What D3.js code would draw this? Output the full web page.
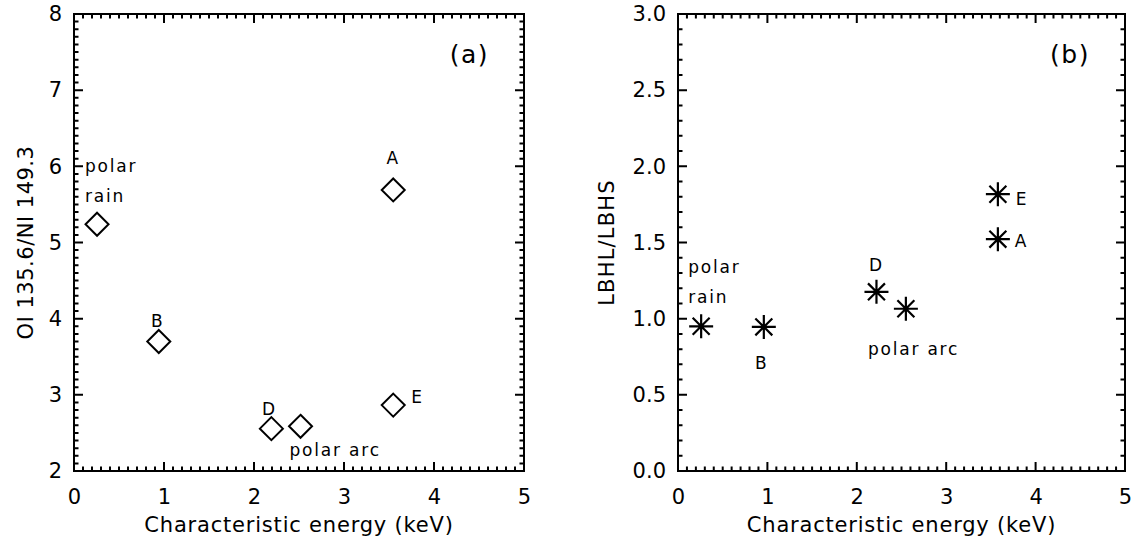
<!DOCTYPE html>
<html>
<head>
<meta charset="utf-8">
<script src="https://cdn.jsdelivr.net/npm/d3@7"></script>
<style>
  html, body { margin: 0; padding: 0; background: #fff; }
  svg text { font-family: "DejaVu Sans", sans-serif; fill: #000; }
</style>
</head>
<body>
<div id="chart"></div>
<script>
// panel (a): OI 135.6 / NI 149.3 vs characteristic energy
const namesA = ['polar rain', 'A', 'B', 'D', 'polar arc', 'E'];
const energyA = [0.256, 3.547, 0.942, 2.193, 2.517, 3.547];
const ratioA = [5.24, 5.69, 3.70, 2.556, 2.587, 2.865];

// panel (b): LBHL / LBHS vs characteristic energy
const namesB = ['polar rain', 'B', 'D', 'polar arc', 'E', 'A'];
const energyB = [0.259, 0.960, 2.220, 2.549, 3.578, 3.578];
const ratioB = [0.95, 0.946, 1.176, 1.065, 1.817, 1.522];

const xTicks = [0, 1, 2, 3, 4, 5];
const yTicksA = [2, 3, 4, 5, 6, 7, 8];
const yTicksB = [0.0, 0.5, 1.0, 1.5, 2.0, 2.5, 3.0];

const width = 1138, height = 541;
const majorLen = 9, minorLen = 4.5;

const svg = d3.select('#chart')
  .append('svg')
  .attr('width', width)
  .attr('height', height);

// label offsets relative to marker (px): [dx, dy, anchor]
const labelPosA = {
  'polar rain': [-12, -52, 'start'],
  'A': [0, -26, 'middle'],
  'B': [-1, -15, 'middle'],
  'D': [-2, -14, 'middle'],
  'polar arc': [-11, 30, 'start'],
  'E': [18, -2, 'start']
};
const labelPosB = {
  'polar rain': [-13, -53, 'start'],
  'B': [-2, 42, 'middle'],
  'D': [0, -21, 'middle'],
  'polar arc': [-38, 46, 'start'],
  'E': [18, 11, 'start'],
  'A': [17, 8, 'start']
};

function drawPanel(opts) {
  const x = d3.scaleLinear().domain([0, 5]).range(opts.xRange);
  const y = d3.scaleLinear().domain(opts.yDomain).range([471, 14]);
  const g = svg.append('g');
  const [x0, x1] = x.range();
  const [y0, y1] = y.range();

  const minorX = d3.range(0, 51).map(d => d / 10);
  const minorY = d3.range(Math.round(opts.yDomain[0] * 10), Math.round(opts.yDomain[1] * 10) + 1)
    .map(d => d / 10);
  const isMajor = (v, list) => list.some(t => Math.abs(t - v) < 1e-6);

  // frame
  g.append('rect')
    .attr('x', x0).attr('y', y1)
    .attr('width', x1 - x0)
    .attr('height', y0 - y1)
    .attr('fill', 'none').attr('stroke', '#000').attr('stroke-width', 2);

  // tick marks on all four sides, pointing inward
  const xLen = d => isMajor(d, xTicks) ? majorLen : minorLen;
  const yLen = d => isMajor(d, opts.yTicks) ? majorLen : minorLen;

  let tickPath = '';
  minorX.forEach(d => {
    tickPath += `M${x(d)},${y0}V${y0 - xLen(d)}M${x(d)},${y1}V${y1 + xLen(d)}`;
  });
  minorY.forEach(d => {
    tickPath += `M${x0},${y(d)}H${x0 + yLen(d)}M${x1},${y(d)}H${x1 - yLen(d)}`;
  });
  g.append('path')
    .attr('d', tickPath)
    .attr('fill', 'none')
    .attr('stroke', '#000')
    .attr('stroke-width', 2);

  // tick labels via axes
  const xAxis = g.append('g')
    .attr('transform', `translate(0,${y0})`)
    .call(d3.axisBottom(x).tickValues(xTicks).tickSize(0).tickPadding(18).tickFormat(d3.format('d')));
  const yAxis = g.append('g')
    .attr('transform', `translate(${x0},0)`)
    .call(d3.axisLeft(y).tickValues(opts.yTicks).tickSize(0).tickPadding(12).tickFormat(opts.yFmt));
  [xAxis, yAxis].forEach(a => {
    a.select('.domain').remove();
    a.selectAll('.tick line').remove();
    a.selectAll('text')
      .style('font-size', '21px')
      .style('font-family', '"DejaVu Sans", sans-serif')
      .attr('fill', '#000');
  });

  // axis titles
  g.append('text')
    .attr('x', (x0 + x1) / 2)
    .attr('y', 532)
    .attr('text-anchor', 'middle')
    .style('font-size', '21px').style('letter-spacing', '0.8px')
    .text('Characteristic energy (keV)');

  g.append('text')
    .attr('transform', `translate(${opts.yTitleX},${(y0 + y1) / 2}) rotate(-90)`)
    .attr('text-anchor', 'middle')
    .style('font-size', '21px').style('letter-spacing', opts.yTitleSpacing)
    .text(opts.yTitle);

  // panel tag
  g.append('text')
    .attr('x', x1 - 35).attr('y', 63)
    .attr('text-anchor', 'end')
    .style('font-size', '25px').style('letter-spacing', '1.5px')
    .text(opts.tag);

  const pts = opts.names.map((n, i) => ({ name: n, e: opts.energy[i], r: opts.ratio[i] }));

  // markers
  const m = g.selectAll('.marker')
    .data(pts)
    .enter()
    .append('g')
    .attr('transform', d => `translate(${x(d.e)},${y(d.r)})`);

  if (opts.symbol === 'diamond') {
    m.append('path')
      .attr('d', 'M0,-11.5L11.5,0L0,11.5L-11.5,0Z')
      .attr('fill', 'none').attr('stroke', '#000').attr('stroke-width', 2);
  } else {
    const r = 12, k = r * Math.SQRT1_2;
    m.append('path')
      .attr('d', `M0,${-r}V${r}M${-r},0H${r}M${-k},${-k}L${k},${k}M${-k},${k}L${k},${-k}`)
      .attr('fill', 'none').attr('stroke', '#000').attr('stroke-width', 2.2);
  }

  // annotations
  pts.forEach(d => {
    const p = opts.labelPos[d.name];
    const words = d.name === 'polar rain' ? ['polar', 'rain'] : [d.name];
    words.forEach((w, j) => {
      g.append('text')
        .attr('x', x(d.e) + p[0])
        .attr('y', y(d.r) + p[1] + j * 30)
        .attr('text-anchor', p[2])
        .style('font-size', '17px').style('letter-spacing', '1.8px')
        .text(w);
    });
  });
}

drawPanel({
  xRange: [74, 524], yDomain: [2, 8], yTicks: yTicksA, yFmt: d3.format('d'),
  yTitle: 'OI 135.6/NI 149.3', yTitleX: 33, yTitleSpacing: '0.5px', tag: '(a)',
  names: namesA, energy: energyA, ratio: ratioA, symbol: 'diamond', labelPos: labelPosA
});

drawPanel({
  xRange: [678, 1125], yDomain: [0, 3], yTicks: yTicksB, yFmt: d3.format('.1f'),
  yTitle: 'LBHL/LBHS', yTitleX: 614, yTitleSpacing: '1.2px', tag: '(b)',
  names: namesB, energy: energyB, ratio: ratioB, symbol: 'asterisk', labelPos: labelPosB
});
</script>
</body>
</html>
